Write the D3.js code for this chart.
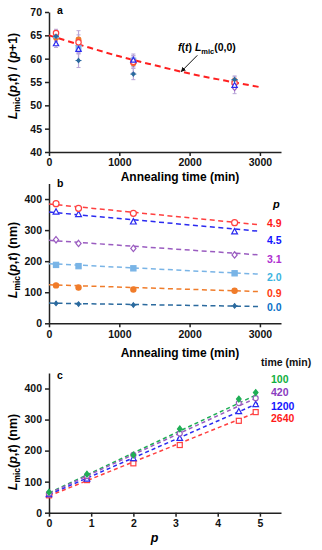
<!DOCTYPE html>
<html><head><meta charset="utf-8">
<script src="https://cdn.jsdelivr.net/npm/d3@7"></script>
<style>body{margin:0;background:#fff}svg{display:block;font-family:"Liberation Sans",Arial,sans-serif;font-weight:bold}</style>
</head><body><svg id="c" width="322" height="550"></svg>
<script>
// ---------- data ----------
const tTimes = [100, 420, 1200, 2640];
const pValues = [0.0, 0.9, 2.0, 3.1, 4.5, 4.9];
const pLabels = ["0.0", "0.9", "2.0", "3.1", "4.5", "4.9"];
const timeLabels = ["100", "420", "1200", "2640"];
const ticksA = [40, 45, 50, 55, 60, 65, 70];
const ticksTime = [0, 1000, 2000, 3000];
const ticksL = [0, 100, 200, 300, 400];
const ticksP = [0, 1, 2, 3, 4, 5];

// panel a: Lmic/(p+1) per p series
const normP00 = [64.8, 59.6, 56.7, 55.5];
const normP09 = [64.5, 64.1, 59.0, 55.3];
const normP20 = [65.0, 62.3, 59.6, 55.0];
const normP31 = [64.6, 62.8, 59.0, 53.8];
const normP45 = [63.2, 62.0, 59.7, 54.3];
const normP49 = [65.5, 63.5, 59.3, 54.8];
const errP00 = [0.8, 1.5, 1.2, 0.8];
const errP31 = [1.5, 3.2, 2.0, 1.3];
const errOther = [0.8, 1.0, 1.0, 0.8];
const fitT = [0, 500, 1000, 1500, 2000, 2500, 3000];
const fitNorm = [65.0, 62.7, 60.5, 58.6, 56.8, 55.3, 53.9];

// panel b: Lmic(p,t) per p series
const lenP00 = [64, 62, 59, 56];
const lenP09 = [122, 115, 109, 105];
const lenP20 = [188, 184, 177, 161];
const lenP31 = [269, 257, 241, 220];
const lenP45 = [359, 351, 327, 295];
const lenP49 = [385, 370, 354, 324];
const fitTimeEnds = [0, 3000];
const fitLenP00 = [65, 54];
const fitLenP09 = [124, 102];
const fitLenP20 = [192, 158];
const fitLenP31 = [267, 220];
const fitLenP45 = [358, 296];
const fitLenP49 = [384, 317];

// panel c: Lmic vs p per time series
const lenT100 = [66, 124, 186, 270, 366, 387];
const lenT420 = [62, 118, 186, 255, 353, 369];
const lenT1200 = [59, 109, 175, 240, 326, 349];
const lenT2640 = [56, 105, 159, 218, 296, 324];
const fitPEnds = [0, 4.95];
const fitLenT100 = [64, 382];
const fitLenT420 = [62, 372];
const fitLenT1200 = [58, 352];
const fitLenT2640 = [54, 325];

// ---------- styles ----------
const pStyle = [
  {col: "#2b6a9e", lab: "#0a72c8", shape: "plus", fill: true, s: 2.2},
  {col: "#f07c2a", lab: "#ff3a10", shape: "circle", fill: true, s: 2.6},
  {col: "#79b4e6", lab: "#3cb4e0", shape: "square", fill: true, s: 2.6},
  {col: "#9a5cc0", lab: "#b030d0", shape: "diamond", fill: false, s: 2.6},
  {col: "#2a2af0", lab: "#1414ff", shape: "triangle", fill: false, s: 2.6},
  {col: "#ff4040", lab: "#ff1a1a", shape: "circle", fill: false, s: 3.0}
];
const tStyle = [
  {col: "#1fae55", lab: "#10b040", shape: "diamond", fill: true, s: 2.3},
  {col: "#9a5cc0", lab: "#8a3cc0", shape: "circle", fill: false, s: 2.5},
  {col: "#2a2af0", lab: "#1414ff", shape: "triangle", fill: false, s: 2.5},
  {col: "#ff4040", lab: "#ff1a1a", shape: "square", fill: false, s: 2.5}
];
const normSeries = [normP00, normP09, normP20, normP31, normP45, normP49];
const normErrs = [errP00, errOther, errOther, errP31, errOther, errOther];
const lenSeries = [lenP00, lenP09, lenP20, lenP31, lenP45, lenP49];
const fitLenSeries = [fitLenP00, fitLenP09, fitLenP20, fitLenP31, fitLenP45, fitLenP49];
const tSeries = [lenT100, lenT420, lenT1200, lenT2640];
const fitTSeries = [fitLenT100, fitLenT420, fitLenT1200, fitLenT2640];

const svg = d3.select("#c");
const X0 = 49, X1 = 281;

const xTime = d3.scaleLinear().domain([0, 3300]).range([X0, X1]);
const yA = d3.scaleLinear().domain([40, 70]).range([152, 12]);
const yB = d3.scaleLinear().domain([0, 450]).range([323.3, 183.5]);
const xP = d3.scaleLinear().domain([0, 5.5]).range([X0, X1]);
const yC = d3.scaleLinear().domain([0, 450]).range([512.7, 373]);

function drawAxes(x, y, xt, yt) {
  const gx = svg.append("g").attr("transform", `translate(0,${y.range()[0]})`)
    .call(d3.axisBottom(x).tickValues(xt).tickFormat(d3.format("d")).tickSize(4).tickSizeOuter(0).tickPadding(3));
  const gy = svg.append("g").attr("transform", `translate(${X0},0)`)
    .call(d3.axisLeft(y).tickValues(yt).tickFormat(d3.format("d")).tickSize(4).tickSizeOuter(0).tickPadding(3));
  [gx, gy].forEach(g => {
    g.selectAll("path,line").attr("stroke", "#222").attr("stroke-width", 1.5);
    g.selectAll("text").attr("fill", "#111").style("font-size", "10.5px")
      .style("font-weight", "bold").style("font-family", '"Liberation Sans",Arial,sans-serif');
  });
}

function marker(g, shape, cx, cy, col, fill, s) {
  let el;
  if (shape === "circle") el = g.append("circle").attr("cx", cx).attr("cy", cy).attr("r", s);
  else if (shape === "square") el = g.append("rect").attr("x", cx - s).attr("y", cy - s).attr("width", 2 * s).attr("height", 2 * s);
  else if (shape === "diamond") el = g.append("path").attr("d", `M${cx},${cy - s - 0.6}L${cx + s},${cy}L${cx},${cy + s + 0.6}L${cx - s},${cy}Z`);
  else if (shape === "triangle") el = g.append("path").attr("d", `M${cx},${cy - s - 0.5}L${cx + s + 0.3},${cy + s - 0.3}L${cx - s - 0.3},${cy + s - 0.3}Z`);
  else if (shape === "plus") {
    el = g.append("path").attr("d", `M${cx},${cy - s}L${cx + s * 0.8},${cy}L${cx},${cy + s}L${cx - s * 0.8},${cy}Z`);
    g.append("path").attr("d", `M${cx - s - 1},${cy}H${cx + s + 1}`).attr("stroke", col).attr("stroke-width", 1);
  }
  el.attr("fill", fill ? col : "#fff").attr("stroke", col).attr("stroke-width", 1.2);
}

// ---------- panel a ----------
drawAxes(xTime, yA, ticksTime, ticksA);
const lineA = d3.line().x((d, i) => xTime(fitT[i])).y(d => yA(d)).curve(d3.curveMonotoneX);
svg.append("path").attr("d", lineA(fitNorm)).attr("fill", "none")
  .attr("stroke", "#ff2020").attr("stroke-width", 2).attr("stroke-dasharray", "6,4");
const gA = svg.append("g");
normSeries.forEach((ser, k) => {
  ser.forEach((v, i) => {
    const e = normErrs[k][i];
    gA.append("line").attr("x1", xTime(tTimes[i])).attr("x2", xTime(tTimes[i]))
      .attr("y1", yA(v - e)).attr("y2", yA(v + e)).attr("stroke", "#b9a6d8").attr("stroke-width", 1.2);
    [v - e, v + e].forEach(w => gA.append("line").attr("x1", xTime(tTimes[i]) - 2).attr("x2", xTime(tTimes[i]) + 2)
      .attr("y1", yA(w)).attr("y2", yA(w)).attr("stroke", "#b9a6d8").attr("stroke-width", 1));
  });
});
[3, 1, 2, 5, 4, 0].forEach(k => {
  normSeries[k].forEach((v, i) => marker(gA, pStyle[k].shape, xTime(tTimes[i]), yA(v), pStyle[k].col, pStyle[k].fill, pStyle[k].s * 0.9));
});
svg.append("text").attr("x", 57).attr("y", 14).style("font-size", "10.5px").text("a");
const ann = svg.append("text").attr("x", 178).attr("y", 51).style("font-size", "10.5px");
ann.append("tspan").style("font-style", "italic").text("f");
ann.append("tspan").text("(");
ann.append("tspan").style("font-style", "italic").text("t");
ann.append("tspan").text(") ");
ann.append("tspan").style("font-style", "italic").text("L");
ann.append("tspan").style("font-size", "7.5px").attr("dy", 2.5).text("mic");
ann.append("tspan").attr("dy", -2.5).text("(0,0)");
svg.append("defs").append("marker").attr("id", "arr").attr("viewBox", "0 0 10 10").attr("refX", 9).attr("refY", 5)
  .attr("markerWidth", 5).attr("markerHeight", 5).attr("orient", "auto")
  .append("path").attr("d", "M0,0L10,5L0,10Z").attr("fill", "#111");
svg.append("line").attr("x1", xTime(2110)).attr("y1", yA(57.5) - 15).attr("x2", xTime(1880)).attr("y2", yA(56.9) - 1.5)
  .attr("stroke", "#111").attr("stroke-width", 1).attr("marker-end", "url(#arr)");

function yTitle(cy, suffix) {
  const t = svg.append("text").attr("transform", `translate(17,${cy}) rotate(-90)`).attr("text-anchor", "middle").style("font-size", "12.5px");
  t.append("tspan").style("font-style", "italic").text("L");
  t.append("tspan").style("font-size", "8.5px").attr("dy", 3).text("mic");
  t.append("tspan").attr("dy", -3).text("(");
  t.append("tspan").style("font-style", "italic").text("p");
  t.append("tspan").text(",");
  t.append("tspan").style("font-style", "italic").text("t");
  if (suffix === "norm") {
    t.append("tspan").text(") / (");
    t.append("tspan").style("font-style", "italic").text("p");
    t.append("tspan").text("+1)");
  } else {
    t.append("tspan").text(") (nm)");
  }
}
yTitle(76, "norm");
svg.append("text").attr("x", (X0 + X1) / 2 + 15).attr("y", 181).attr("text-anchor", "middle").style("font-size", "12px").text("Annealing time (min)");

// ---------- panel b ----------
drawAxes(xTime, yB, ticksTime, ticksL);
const gB = svg.append("g");
fitLenSeries.forEach((f, k) => {
  gB.append("line").attr("x1", xTime(fitTimeEnds[0])).attr("x2", xTime(fitTimeEnds[1]))
    .attr("y1", yB(f[0])).attr("y2", yB(f[1])).attr("stroke", pStyle[k].col)
    .attr("stroke-width", 1.5).attr("stroke-dasharray", "5,3.5");
});
lenSeries.forEach((ser, k) => {
  ser.forEach((v, i) => {
    gB.append("line").attr("x1", xTime(tTimes[i])).attr("x2", xTime(tTimes[i]))
      .attr("y1", yB(v - 6)).attr("y2", yB(v + 6)).attr("stroke", pStyle[k].col).attr("stroke-opacity", 0.5).attr("stroke-width", 1);
    marker(gB, pStyle[k].shape, xTime(tTimes[i]), yB(v), pStyle[k].col, pStyle[k].fill, pStyle[k].s);
  });
});
svg.append("text").attr("x", 57).attr("y", 187).style("font-size", "10.5px").text("b");
svg.append("text").attr("x", 273).attr("y", 208).style("font-size", "11px").style("font-style", "italic").text("p");
const legBY = [307, 293, 277, 259, 240, 223];
pLabels.forEach((l, k) => {
  svg.append("text").attr("x", 267).attr("y", legBY[k] + 4).style("font-size", "10.5px").attr("fill", pStyle[k].lab).text(l);
});
yTitle(260, "nm");
svg.append("text").attr("x", (X0 + X1) / 2 + 15).attr("y", 357).attr("text-anchor", "middle").style("font-size", "12px").text("Annealing time (min)");

// ---------- panel c ----------
drawAxes(xP, yC, ticksP, ticksL);
const gC = svg.append("g");
fitTSeries.forEach((f, k) => {
  gC.append("line").attr("x1", xP(fitPEnds[0])).attr("x2", xP(fitPEnds[1]))
    .attr("y1", yC(f[0])).attr("y2", yC(f[1])).attr("stroke", tStyle[k].col)
    .attr("stroke-width", 1.5).attr("stroke-dasharray", "4,3");
});
[3, 2, 1, 0].forEach(k => {
  tSeries[k].forEach((v, i) => {
    gC.append("line").attr("x1", xP(pValues[i])).attr("x2", xP(pValues[i]))
      .attr("y1", yC(v - 9)).attr("y2", yC(v + 9)).attr("stroke", tStyle[k].col).attr("stroke-opacity", 0.5).attr("stroke-width", 1);
    marker(gC, tStyle[k].shape, xP(pValues[i]), yC(v), tStyle[k].col, tStyle[k].fill, tStyle[k].s);
  });
});
svg.append("text").attr("x", 57).attr("y", 379).style("font-size", "10.5px").text("c");
svg.append("text").attr("x", 261).attr("y", 366).style("font-size", "10.5px").attr("fill", "#111").text("time (min)");
const legCY = [383, 396, 409.5, 422];
timeLabels.forEach((l, k) => {
  svg.append("text").attr("x", 271).attr("y", legCY[k]).style("font-size", "10.5px").attr("fill", tStyle[k].lab).text(l);
});
const yt = svg.append("text").attr("transform", `translate(17,452) rotate(-90)`).attr("text-anchor", "middle").style("font-size", "12.5px");
yt.append("tspan").style("font-style", "italic").text("L");
yt.append("tspan").style("font-size", "8.5px").attr("dy", 3).text("mic");
yt.append("tspan").attr("dy", -3).text("(");
yt.append("tspan").style("font-style", "italic").text("p");
yt.append("tspan").text(",");
yt.append("tspan").style("font-style", "italic").text("t");
yt.append("tspan").text(") (nm)");
svg.append("text").attr("x", xP(2.5)).attr("y", 542).attr("text-anchor", "middle").style("font-size", "12.5px").style("font-style", "italic").text("p");
</script></body></html>
